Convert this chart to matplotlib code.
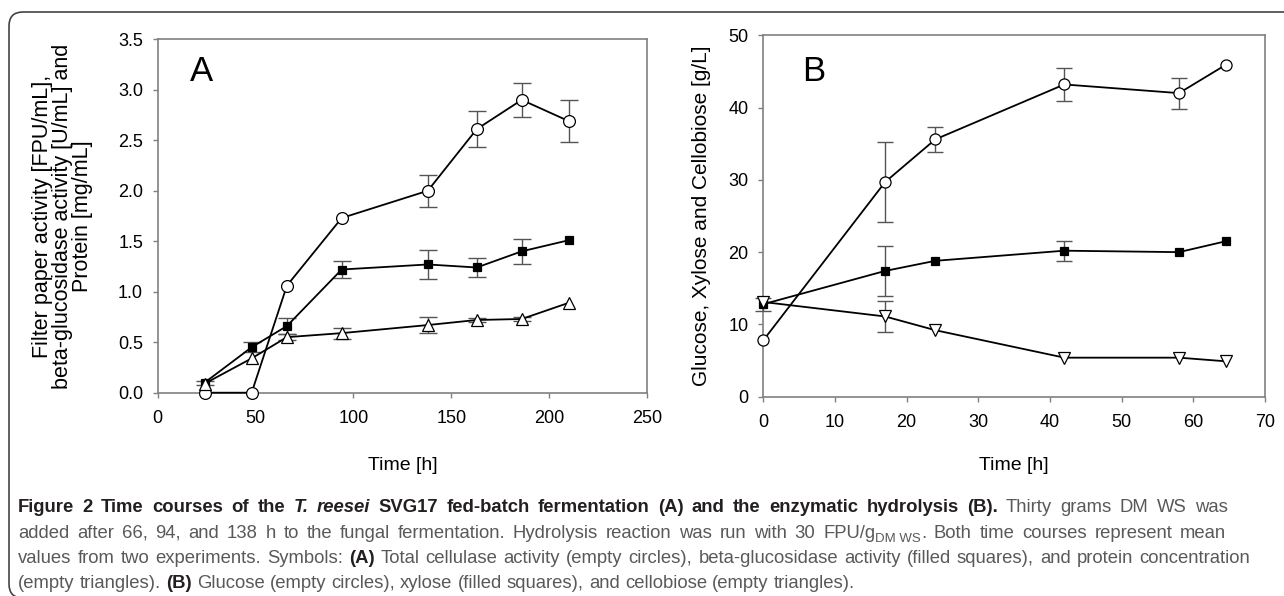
import matplotlib
matplotlib.use('Agg')
import matplotlib.pyplot as plt
from matplotlib import font_manager
from matplotlib.font_manager import FontProperties
from matplotlib.transforms import IdentityTransform
from matplotlib.patches import FancyBboxPatch
from matplotlib.ticker import FormatStrFormatter

# ---------------- data ----------------
# Panel A: fed-batch fermentation
time_A = [24, 48, 66, 94, 138, 163, 186, 210]
fpu = [0.0, 0.0, 1.06, 1.73, 2.00, 2.61, 2.90, 2.69]
fpu_err = [0, 0, 0, 0, 0.16, 0.18, 0.165, 0.21]
bgl = [0.10, 0.45, 0.66, 1.22, 1.27, 1.24, 1.40, 1.51]
bgl_err = [0.02, 0.05, 0.08, 0.085, 0.14, 0.09, 0.125, 0]
protein = [0.09, 0.34, 0.55, 0.59, 0.67, 0.72, 0.73, 0.89]
protein_err = [0, 0, 0.03, 0.055, 0.08, 0.02, 0.02, 0]

# Panel B: enzymatic hydrolysis
time_B = [0, 17, 24, 42, 58, 64.5]
glucose = [7.8, 29.7, 35.6, 43.2, 42.0, 45.9]
glucose_err = [0, 5.5, 1.7, 2.25, 2.15, 0]
xylose = [12.8, 17.4, 18.8, 20.2, 20.0, 21.5]
xylose_err = [0.9, 3.5, 0, 1.4, 0, 0]
cellobiose = [13.1, 11.1, 9.2, 5.4, 5.4, 4.9]
cellobiose_err = [0, 2.2, 0, 0, 0, 0]

xticks_A = [0, 50, 100, 150, 200, 250]
yticks_A = [0.0, 0.5, 1.0, 1.5, 2.0, 2.5, 3.0, 3.5]
xticks_B = [0, 10, 20, 30, 40, 50, 60, 70]
yticks_B = [0, 10, 20, 30, 40, 50]

ylabel_A = "Filter paper activity [FPU/mL],\nbeta-glucosidase activity [U/mL] and\nProtein [mg/mL]"
ylabel_B = "Glucose, Xylose and Cellobiose [g/L]"
xlabel = "Time [h]"

caption_lines = [
    [("Figure 2 Time courses of the ", "b"), ("T. reesei", "bi"),
     (" SVG17 fed-batch fermentation (A) and the enzymatic hydrolysis (B).", "b"),
     (" Thirty grams DM WS was", "r")],
    [("added after 66, 94, and 138 h to the fungal fermentation. Hydrolysis reaction was run with 30 FPU/g", "r"),
     ("DM WS", "sub"), (". Both time courses represent mean", "r")],
    [("values from two experiments. Symbols: ", "r"), ("(A)", "b"),
     (" Total cellulase activity (empty circles), beta-glucosidase activity (filled squares), and protein concentration", "r")],
    [("(empty triangles). ", "r"), ("(B)", "b"),
     (" Glucose (empty circles), xylose (filled squares), and cellobiose (empty triangles).", "r")],
]

# ---------------- figure ----------------
W, H = 1284, 596
plt.rcParams['font.family'] = ['Liberation Sans', 'DejaVu Sans']
fig = plt.figure(figsize=(W / 100, H / 100), dpi=100)
fig.patch.set_facecolor('white')


def px_axes(l, t, r, b):
    return [l / W, 1 - b / H, (r - l) / W, (b - t) / H]


axA = fig.add_axes(px_axes(157.7, 39.3, 647.0, 392.7))
axB = fig.add_axes(px_axes(763.3, 35.3, 1265.0, 396.7))


def style(ax):
    for s in ax.spines.values():
        s.set_color('#808080')
        s.set_linewidth(1.2)
    ax.tick_params(direction='out', length=3.5, width=1.0, color='#808080',
                   labelsize=13, labelcolor='black')
    ax.tick_params(axis='x', pad=9)
    ax.tick_params(axis='y', pad=7)


def series(ax, x, y, err, marker, face, ms, capsize, z):
    idx = [i for i, e in enumerate(err) if e > 0]
    if idx:
        ax.errorbar([x[i] for i in idx], [y[i] for i in idx],
                    yerr=[err[i] for i in idx], fmt='none', ecolor='#555555',
                    elinewidth=1.0, capsize=capsize, capthick=1.0, zorder=z - 0.5,
                    clip_on=False)
    ax.plot(x, y, color='black', lw=1.3, marker=marker, ms=ms, mfc=face,
            mec='black', mew=0.9, zorder=z, clip_on=False)


# Panel A
style(axA)
series(axA, time_A, fpu, fpu_err, 'o', 'white', 8.5, 6.5, 3)
series(axA, time_A, bgl, bgl_err, 's', 'black', 6.0, 6.5, 4)
series(axA, time_A, protein, protein_err, '^', 'white', 8.0, 6.5, 5)
axA.set_xlim(0, 250)
axA.set_ylim(0, 3.5)
axA.set_xticks(xticks_A)
axA.set_yticks(yticks_A)
axA.yaxis.set_major_formatter(FormatStrFormatter('%.1f'))
axA.set_ylabel(ylabel_A, fontsize=15.5, va='center', ha='center',
               multialignment='center', linespacing=0.95)
axA.yaxis.set_label_coords(-0.195, 0.5)
axA.set_xlabel(xlabel, fontsize=14, va='center')
axA.xaxis.set_label_coords(0.5, (392.7 - 465) / 353.4)
axA.text(0.09, 0.883, 'A', transform=axA.transAxes, fontsize=25,
         ha='center', va='baseline')

# Panel B
style(axB)
series(axB, time_B, glucose, glucose_err, 'o', 'white', 8.0, 5.5, 3)
series(axB, time_B, xylose, xylose_err, 's', 'black', 5.5, 5.5, 4)
series(axB, time_B, cellobiose, cellobiose_err, 'v', 'white', 8.0, 5.5, 5)
axB.set_xlim(0, 70)
axB.set_ylim(0, 50)
axB.set_xticks(xticks_B)
axB.set_yticks(yticks_B)
axB.set_ylabel(ylabel_B, fontsize=15, va='center', ha='center')
axB.yaxis.set_label_coords((701.6 - 763.3) / 501.7, 0.5)
axB.set_xlabel(xlabel, fontsize=14, va='center')
axB.xaxis.set_label_coords(0.5, (396.7 - 465) / 361.4)
axB.text(0.0997, 0.874, 'B', transform=axB.transAxes, fontsize=25,
         ha='center', va='baseline')

# ---------------- frame ----------------
frame = FancyBboxPatch((9, H - 598), 1400, 598 - 12,
                       boxstyle="round,pad=0,rounding_size=14",
                       transform=IdentityTransform(), facecolor='none',
                       edgecolor='#444444', linewidth=1.2)
fig.add_artist(frame)

# ---------------- caption ----------------
names = {f.name for f in font_manager.fontManager.ttflist}
cap_family = 'Liberation Sans Narrow' if 'Liberation Sans Narrow' in names else 'Liberation Sans'
renderer = fig.canvas.get_renderer()

BOLD_C = '#231f20'
REG_C = '#58595b'


def fprops(kind, size):
    if kind == 'b':
        return FontProperties(family=cap_family, weight='bold', size=size)
    if kind == 'bi':
        return FontProperties(family=cap_family, weight='bold', style='italic', size=size)
    if kind == 'sub':
        return FontProperties(family=cap_family, size=size * 0.72)
    return FontProperties(family=cap_family, size=size)


def advance(s, fp):
    w1, _, _ = renderer.get_text_width_height_descent(s + '|', fp, ismath=False)
    w2, _, _ = renderer.get_text_width_height_descent('|', fp, ismath=False)
    return w1 - w2


def tokens(runs):
    out = []
    for t, k in runs:
        if k == 'sub':
            out.append((t, k, False))
            continue
        parts = t.split(' ')
        for j, p in enumerate(parts):
            if j > 0:
                out.append((' ', k, True))
            if p:
                out.append((p, k, False))
    return out


def line_width(runs, size):
    return sum(advance(t, fprops(k, size)) for t, k, _ in tokens(runs))


base = 10.0
cap_size = base * (1250 - 18) / line_width(caption_lines[2], base) * 0.99

baselines = [512, 537.5, 563, 588.5]
line_ends = [1228, 1226, 1250, None]
for runs, yb, end in zip(caption_lines, baselines, line_ends):
    toks = tokens(runs)
    natural = line_width(runs, cap_size)
    nsp = sum(1 for _, _, sp in toks if sp)
    extra = 0.0
    if end is not None and nsp:
        extra = max(0.0, (end - 18 - natural) / nsp)
    x = 18.0
    for t, k, sp in toks:
        fp = fprops(k, cap_size)
        if sp:
            x += advance(' ', fp) + extra
            continue
        color = BOLD_C if k in ('b', 'bi') else REG_C
        dy = -cap_size * 100 / 72 * 0.22 if k == 'sub' else 0
        fig.text(x, H - yb + dy, t, fontproperties=fp, color=color,
                 ha='left', va='baseline', transform=IdentityTransform())
        x += advance(t, fp)

fig.savefig('out.png', dpi=100)
